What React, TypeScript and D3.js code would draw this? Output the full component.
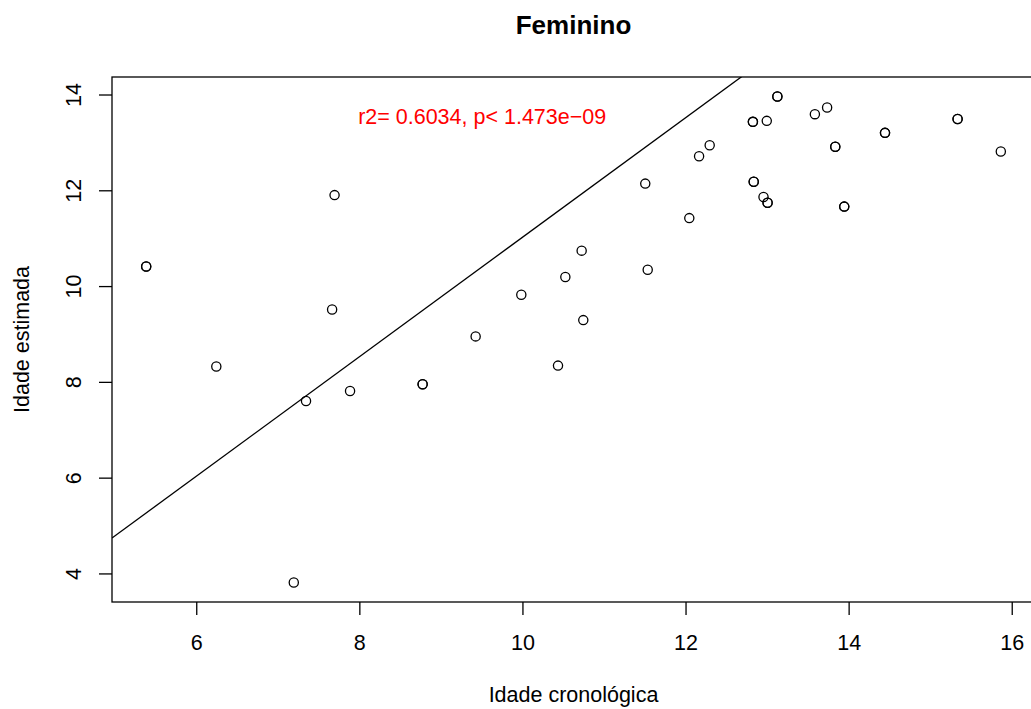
import React from "react";
import * as d3 from "d3";

const idadeCronologica = [
  5.38, 5.38, 6.24, 7.34, 7.66, 7.69, 7.88, 7.19, 8.77, 8.77, 9.42, 9.98, 10.43, 10.52, 10.72, 10.74,
  11.53, 11.50, 12.04, 12.16, 12.29, 12.82, 12.82, 12.83, 12.83, 12.95, 12.99, 13.00, 13.00, 13.12,
  13.12, 13.58, 13.73, 13.83, 13.83, 13.94, 13.94, 14.44, 14.44, 15.33, 15.33, 15.86,
];
const idadeEstimada = [
  10.42, 10.42, 8.33, 7.61, 9.52, 11.91, 7.82, 3.82, 7.96, 7.96, 8.96, 9.83, 8.35, 10.20, 10.75, 9.30,
  10.35, 12.15, 11.43, 12.72, 12.95, 13.44, 13.44, 12.19, 12.19, 11.87, 13.46, 11.75, 11.75, 13.97,
  13.97, 13.60, 13.74, 12.92, 12.92, 11.67, 11.67, 13.21, 13.21, 13.50, 13.50, 12.82,
];
const xTicks = [6, 8, 10, 12, 14, 16];
const yTicks = [4, 6, 8, 10, 12, 14];
const fitIntercept = -1.439;
const fitSlope = 1.2476;
const titleText = "Feminino";
const xLabel = "Idade cronológica";
const yLabel = "Idade estimada";
const annotation = "r2= 0.6034, p< 1.473e\u221209";
const annotationPos = [9.5, 13.55];

const W = 1031;
const H = 709;
const left = 112;
const right = 1035;
const top = 77;
const bottom = 602;
const FONT = "'Liberation Sans', Arial, Helvetica, sans-serif";
const FS = 21.5;

export default function App() {
  const [x0, x1] = d3.extent(idadeCronologica) as [number, number];
  const [y0, y1] = d3.extent(idadeEstimada) as [number, number];
  const px = (x1 - x0) * 0.04;
  const py = (y1 - y0) * 0.04;
  const x = d3.scaleLinear().domain([x0 - px, x1 + px]).range([left, right]);
  const y = d3.scaleLinear().domain([y0 - py, y1 + py]).range([bottom, top]);
  const [dx0, dx1] = x.domain();
  const line = d3.line<number>().x((d) => x(d)).y((d) => y(fitIntercept + fitSlope * d));
  const tick = 13;

  return (
    <svg
      width={W}
      height={H}
      style={{ position: "absolute", left: 0, top: 0, display: "block", background: "#fff" }}
      fontFamily={FONT}
    >
      <defs>
        <clipPath id="plotclip">
          <rect x={left} y={top} width={right - left} height={bottom - top} />
        </clipPath>
      </defs>
      <rect x={0} y={0} width={W} height={H} fill="#fff" />
      <text x={(left + right) / 2} y={34} textAnchor="middle" fontWeight="bold" fontSize={26}>
        {titleText}
      </text>
      <path d={line([dx0, dx1]) || ""} stroke="#000" strokeWidth={1.3} fill="none" clipPath="url(#plotclip)" />
      {idadeCronologica.map((d, i) => (
        <circle key={i} cx={x(d)} cy={y(idadeEstimada[i])} r={4.6} fill="none" stroke="#000" strokeWidth={1.3} />
      ))}
      <text
        x={x(annotationPos[0])}
        y={y(annotationPos[1])}
        textAnchor="middle"
        dominantBaseline="central"
        fill="#ff0000"
        fontSize={FS}
      >
        {annotation}
      </text>
      <rect x={left} y={top} width={right - left} height={bottom - top} fill="none" stroke="#000" strokeWidth={1.3} />
      {xTicks.map((t) => (
        <g key={"x" + t}>
          <line x1={x(t)} x2={x(t)} y1={bottom} y2={bottom + tick} stroke="#000" strokeWidth={1.3} />
          <text x={x(t)} y={bottom + 48} textAnchor="middle" fontSize={FS}>
            {t}
          </text>
        </g>
      ))}
      {yTicks.map((t) => (
        <g key={"y" + t}>
          <line x1={left - tick} x2={left} y1={y(t)} y2={y(t)} stroke="#000" strokeWidth={1.3} />
          <text
            transform={`translate(${left - 31},${y(t)}) rotate(-90)`}
            textAnchor="middle"
            fontSize={FS}
          >
            {t}
          </text>
        </g>
      ))}
      <text x={(left + right) / 2} y={bottom + 100} textAnchor="middle" fontSize={FS}>
        {xLabel}
      </text>
      <text
        transform={`translate(${left - 83},${(top + bottom) / 2}) rotate(-90)`}
        textAnchor="middle"
        fontSize={FS}
      >
        {yLabel}
      </text>
    </svg>
  );
}
